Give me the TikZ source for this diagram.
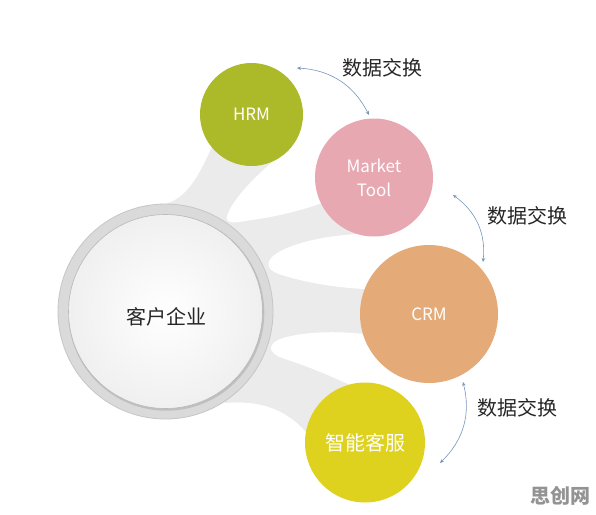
\documentclass[tikz,border=0pt]{standalone}
\usepackage{fontspec}
\setmainfont{Noto Sans CJK SC}
\usetikzlibrary{calc,arrows.meta}
\definecolor{hrmc}{RGB}{172,186,42}
\definecolor{mktc}{RGB}{231,168,178}
\definecolor{crmc}{RGB}{228,171,120}
\definecolor{svcc}{RGB}{222,210,30}
\definecolor{branchgray}{RGB}{235,235,235}
\definecolor{ringgray}{RGB}{218,218,218}
\definecolor{arrowblue}{RGB}{120,150,185}
\tikzset{
  sat/.style={circle, inner sep=0pt, text=white, font=\fontsize{17}{24}\selectfont, align=center},
  xlabel/.style={font=\fontsize{20}{24}\selectfont, text=black!85},
  xarrow/.style={draw=arrowblue, line width=0.6pt, {Stealth[length=4pt,width=3.5pt]}-{Stealth[length=4pt,width=3.5pt]}},
  gap/.style={fill=white},
}
\begin{document}
\begin{tikzpicture}[x=1pt,y=-1pt]
\useasboundingbox[fill=white] (0,0) rectangle (596,514);
\coordinate (M) at (165.5,311.5);
\coordinate (Hc) at (251.5,114.5);
\coordinate (Tc) at (374,177.5);
\coordinate (Cc) at (429,314);
\coordinate (Sc) at (365,442.5);
% grey branches joining the centre to the four circles
\fill[branchgray] (M) -- (162,205) .. controls (185,200) and (197,180) .. (211,149) -- (Hc) -- (Tc) -- (Cc) -- (Sc)
   -- (306,432) .. controls (285,408) and (258,400) .. (225,403) -- cycle;
% white gaps between the branches
\fill[gap] (287,150) .. controls (255,175) and (232,200) .. (227,216) .. controls (225,224) and (235,223) .. (245,221)
   .. controls (275,217) and (300,211) .. (322,203) -- (345,175) -- (310,95) -- cycle;
\fill[gap] (358,234) .. controls (320,236) and (285,245) .. (272,257) .. controls (264,266) and (270,272) .. (285,276)
   .. controls (315,285) and (345,288) .. (365,289) -- (400,280) -- (445,225) -- (400,215) -- cycle;
\fill[gap] (363,334) .. controls (330,330) and (290,333) .. (276,341) .. controls (266,348) and (272,355) .. (285,359)
   .. controls (310,367) and (335,378) .. (350,385) -- (385,400) -- (425,390) -- (400,350) -- cycle;
% main circle
\fill[ringgray] (M) circle (107.5);
\draw[gray!45, line width=0.8pt] (M) circle (107.5);
\fill[gray!70, opacity=0.5] ($(M)+(0.8,1.2)$) circle (98);
\node[circle, minimum size=194pt, inner sep=0pt, inner color=white, outer color=gray!12, draw=gray!55, line width=0.6pt] (main) at (M) {};
\node[font=\fontsize{20}{24}\selectfont, text=black!85] (mainlabel) at (166,317) {客户企业};
% satellites
\node[sat, fill=hrmc, minimum size=103pt] (hrm) at (Hc) {HRM};
\node[sat, fill=mktc, minimum size=118pt] (mkt) at (Tc) {Market\\Tool};
\node[sat, fill=crmc, minimum size=138pt] (crm) at (Cc) {CRM};
\node[sat, fill=svcc, minimum size=120pt, font=\fontsize{20}{24}\selectfont] (svc) at (Sc) {智能客服};
% exchange labels and arrows
\node[xlabel] (l1) at (382,67.5) {数据交换};
\node[xlabel] (l2) at (527,216) {数据交换};
\node[xlabel] (l3) at (517,407.5) {数据交换};
\coordinate (p1s) at (297,68);
\coordinate (p1e) at (369,115);
\coordinate (p2s) at (453,195);
\coordinate (p2e) at (483,262);
\coordinate (p3s) at (463,382);
\coordinate (p3e) at (440,463);
\draw[xarrow] (p1s) to[bend left=30] (p1e);
\draw[xarrow] (p2s) to[bend left=30] (p2e);
\draw[xarrow] (p3s) to[bend left=30] (p3e);
% watermark
\node[font=\fontsize{20}{24}\selectfont\bfseries, text=gray!85] (wm) at (560,496) {思创网};
\end{tikzpicture}
\end{document}
